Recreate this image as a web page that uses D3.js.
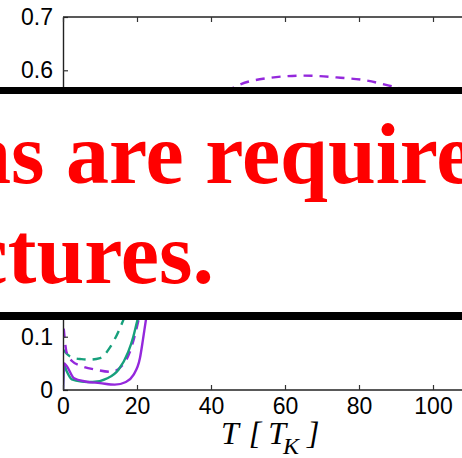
<!DOCTYPE html>
<html>
<head>
<meta charset="utf-8">
<script src="https://cdn.jsdelivr.net/npm/d3@7"></script>
<style>
  body { margin: 0; background: white; }
  svg { display: block; }
</style>
</head>
<body>
<div id="chart"></div>
<script>
// temperature grid (T in units of T_K) and the four curves
const tPurpleSolid = [0, 0.3, 1, 3, 6, 10, 14, 17, 19, 20.8, 21.6, 22.4, 25, 30, 40, 50, 60, 80, 100, 120];
const vPurpleSolid = [0, 0.05, 0.045, 0.022, 0.016, 0.013, 0.01, 0.015, 0.028, 0.06, 0.094, 0.131, 0.22, 0.33, 0.44, 0.48, 0.5, 0.51, 0.5, 0.49];

const tGreenSolid = [0, 0.3, 1, 2.4, 5, 8, 12, 15, 17.6, 19, 20, 22, 25, 30, 40, 60, 80, 100, 120];
const vGreenSolid = [0, 0.047, 0.035, 0.02, 0.016, 0.015, 0.022, 0.038, 0.071, 0.1, 0.128, 0.18, 0.25, 0.33, 0.42, 0.47, 0.48, 0.47, 0.46];

const tGreenDash = [0.2, 1, 3, 5, 7, 10, 12.7, 15, 16.5, 18, 22, 30, 40, 60, 80, 100, 120];
const vGreenDash = [0.075, 0.068, 0.06, 0.058, 0.057, 0.06, 0.08, 0.11, 0.135, 0.165, 0.25, 0.38, 0.47, 0.53, 0.54, 0.53, 0.52];

const tPurpleDash = [0.2, 1, 2.5, 5, 9, 13, 16, 18, 19.5, 20.3, 22, 26, 32, 40, 46, 55, 65, 75, 81, 90, 100, 110, 120];
const vPurpleDash = [0.115, 0.07, 0.054, 0.045, 0.038, 0.034, 0.046, 0.07, 0.105, 0.128, 0.19, 0.3, 0.42, 0.52, 0.567, 0.585, 0.59, 0.586, 0.582, 0.568, 0.55, 0.53, 0.51];

const xTicks = [0, 20, 40, 60, 80, 100];
const yTicks = [0, 0.1, 0.2, 0.3, 0.4, 0.5, 0.6, 0.7];

const bannerLines = ["Captions are required", "for pictures."];

const PURPLE = "#9428dc";
const GREEN = "#17a07c";

const W = 462, H = 458;
const LEFT = 63, TOP = 17, BOTTOM = 390;

const svg = d3.select("#chart").append("svg")
  .attr("width", W)
  .attr("height", H)
  .attr("viewBox", [0, 0, W, H]);

const x = d3.scaleLinear().domain([0, 100]).range([LEFT, 433]);
const y = d3.scaleLinear().domain([0, 0.7]).range([BOTTOM, TOP]);

svg.append("clipPath").attr("id", "plot")
  .append("rect")
  .attr("x", LEFT).attr("y", TOP)
  .attr("width", W - LEFT).attr("height", BOTTOM - TOP);

const series = [
  { t: tGreenDash, v: vGreenDash, color: GREEN, dash: "9,7" },
  { t: tPurpleDash, v: vPurpleDash, color: PURPLE, dash: "9,7" },
  { t: tGreenSolid, v: vGreenSolid, color: GREEN, dash: null },
  { t: tPurpleSolid, v: vPurpleSolid, color: PURPLE, dash: null },
];

const line = d3.line()
  .x(d => x(d[0]))
  .y(d => y(d[1]))
  .curve(d3.curveMonotoneX);

svg.append("g").attr("clip-path", "url(#plot)")
  .selectAll("path")
  .data(series)
  .join("path")
  .attr("d", s => line(s.t.map((t, i) => [t, s.v[i]])))
  .attr("fill", "none")
  .attr("stroke", s => s.color)
  .attr("stroke-width", 2.4)
  .attr("stroke-dasharray", s => s.dash);

// axes, ticks pointing inward
const font = "'Liberation Sans', Arial, sans-serif";

const yAxis = svg.append("g")
  .attr("transform", `translate(${LEFT},0)`)
  .call(d3.axisLeft(y).tickValues(yTicks).tickFormat(d3.format("")).tickSizeInner(-5).tickSizeOuter(0).tickPadding(10));

const xAxis = svg.append("g")
  .attr("transform", `translate(0,${BOTTOM})`)
  .call(d3.axisBottom(x).tickValues(xTicks).tickSizeInner(-5).tickSizeOuter(0).tickPadding(8));

const xTop = svg.append("g")
  .attr("transform", `translate(0,${TOP})`)
  .call(d3.axisTop(x).tickValues(xTicks).tickSizeInner(-5).tickSizeOuter(0).tickFormat(""));

[yAxis, xAxis, xTop].forEach(g => {
  g.select(".domain").attr("stroke", "#222").attr("stroke-width", 1.4);
  g.selectAll(".tick line").attr("stroke", "#333").attr("stroke-width", 1.2);
  g.selectAll("text").attr("fill", "#000").style("font-family", font).style("font-size", "23px");
});
xAxis.select(".domain").attr("d", `M${LEFT},0H${W}`);
xTop.select(".domain").attr("d", `M${LEFT},0H${W}`);

// x label  T [ T_K ]
const lab = svg.append("text")
  .attr("x", 221).attr("y", 444)
  .style("font-family", "'Liberation Serif', 'DejaVu Serif', serif")
  .style("font-style", "italic")
  .style("font-size", "32px")
  .attr("fill", "#000");
lab.append("tspan").text("T");
lab.append("tspan").attr("dx", 10).text("[");
lab.append("tspan").attr("dx", 7).text("T");
lab.append("tspan").attr("dy", 10).attr("dx", -3).style("font-size", "24px").text("K");
lab.append("tspan").attr("dy", -10).attr("dx", 8).text("]");

// banner across the middle
svg.append("rect").attr("x", 0).attr("y", 87).attr("width", W).attr("height", 233).attr("fill", "#000");
svg.append("rect").attr("x", 0).attr("y", 94).attr("width", W).attr("height", 218).attr("fill", "#fff");

const bannerFont = "'Liberation Serif', 'Times New Roman', serif";
const l1 = svg.append("text")
  .attr("y", 183)
  .style("font-family", bannerFont).style("font-weight", "bold").style("font-size", "86px")
  .attr("fill", "#ff0000")
  .text(bannerLines[0]);
l1.attr("x", 66 - l1.node().getSubStringLength(0, 9));

svg.append("text")
  .attr("x", 214).attr("y", 283)
  .attr("text-anchor", "end")
  .style("font-family", bannerFont).style("font-weight", "bold").style("font-size", "86px")
  .attr("fill", "#ff0000")
  .text(bannerLines[1]);
</script>
</body>
</html>
